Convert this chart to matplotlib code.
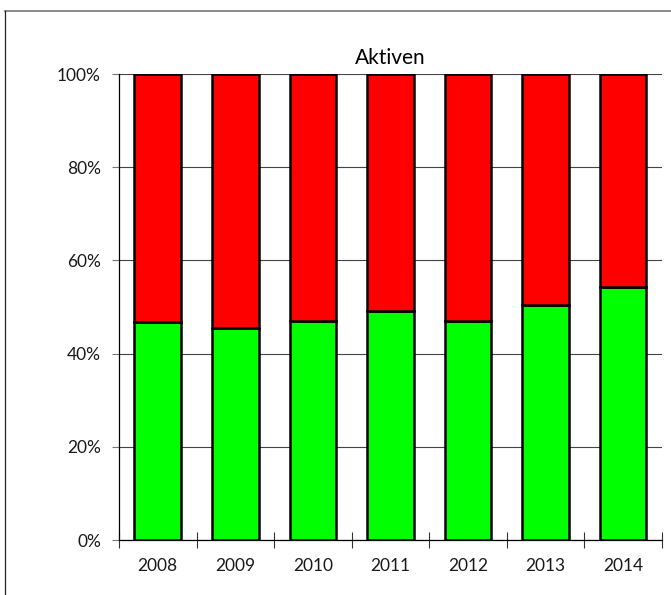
import numpy as np
import matplotlib
matplotlib.use('Agg')
import matplotlib.pyplot as plt
from matplotlib.lines import Line2D
from matplotlib.ticker import FixedLocator, PercentFormatter

years = ['2008', '2009', '2010', '2011', '2012', '2013', '2014']
green_share = [46.8, 45.6, 46.9, 49.2, 46.9, 50.4, 54.2]
red_share = [100 - g for g in green_share]
yticks = [0, 20, 40, 60, 80, 100]

plt.rcParams['font.family'] = ['Lato', 'DejaVu Sans']


def main():
    fig = plt.figure(figsize=(6.71, 5.95), dpi=100)
    ax = fig.add_axes([0.1773, 0.0924, 0.8093, 0.7832])

    x = np.arange(len(years))
    ax.bar(x, green_share, width=0.6, color='#00ff00', edgecolor='black', linewidth=1.8, zorder=3)
    ax.bar(x, red_share, width=0.6, bottom=green_share, color='#ff0000', edgecolor='black', linewidth=1.8, zorder=3)

    ax.set_xlim(-0.5, len(years) - 0.5)
    ax.set_ylim(0, 100)
    ax.set_yticks(yticks)
    ax.yaxis.set_major_formatter(PercentFormatter(decimals=0))
    ax.grid(axis='y', color='#444444', linewidth=0.8, zorder=0)

    ax.set_xticks(x)
    ax.set_xticklabels(years)
    ax.tick_params(axis='x', length=0, pad=13, labelsize=12.5, labelcolor='#1a1a1a')
    ax.xaxis.set_minor_locator(FixedLocator(np.arange(len(years) + 1) - 0.5))
    ax.tick_params(axis='x', which='minor', direction='inout', length=11, width=0.8, color='#333333')
    ax.tick_params(axis='y', length=5, width=0.8, color='#777777', labelsize=12.5, labelcolor='#1a1a1a', pad=8)

    for side in ['top', 'right']:
        ax.spines[side].set_visible(False)
    ax.spines['left'].set_linewidth(0.9)
    ax.spines['bottom'].set_linewidth(0.9)

    ax.set_title('Aktiven', fontsize=15, pad=7)

    # khung ngoài của hình
    fig.add_artist(Line2D([5 / 671, 1], [1 - 11 / 595, 1 - 11 / 595], color='#777777', linewidth=1.2))
    fig.add_artist(Line2D([5 / 671, 5 / 671], [0, 1 - 11 / 595], color='#222222', linewidth=0.9))

    fig.savefig('out.png', dpi=100)


if __name__ == "__main__":
    main()
